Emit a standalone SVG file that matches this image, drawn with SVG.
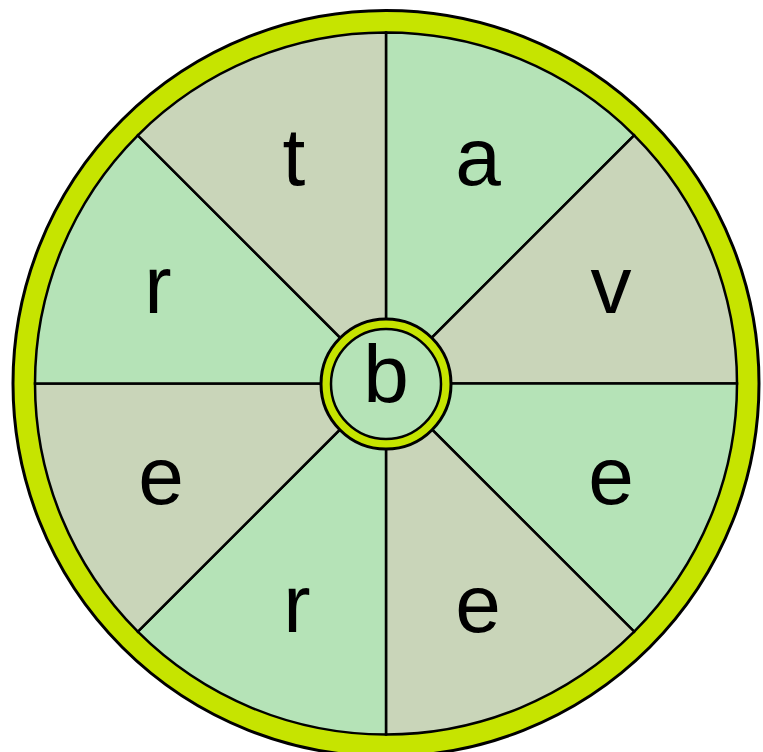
<svg xmlns="http://www.w3.org/2000/svg" width="763" height="752" viewBox="0 0 763 752">
<style>
.ring{fill:#c6e400;stroke:#000;stroke-width:3}
.g{fill:#b5e3b7;stroke:#000;stroke-width:2.5}
.s{fill:#c9d5b9;stroke:#000;stroke-width:2.5}
.t{font-family:"Liberation Sans",Arial,sans-serif;font-size:82px;fill:#000;text-anchor:middle}
</style>
<rect width="763" height="752" fill="#fff"/>
<g id="outer-ring"><circle class="ring" cx="386" cy="383.5" r="373"/></g>
<g id="connectors">
<g id="sector-a"><path class="g" d="M386,383.5 L386,32.5 A351,351 0 0 1 634.2,135.3 Z"/><text class="t" x="478" y="185">a</text></g>
<g id="sector-v"><path class="s" d="M386,383.5 L634.2,135.3 A351,351 0 0 1 737,383.5 Z"/><text class="t" x="611" y="313">v</text></g>
<g id="sector-e1"><path class="g" d="M386,383.5 L737,383.5 A351,351 0 0 1 634.2,631.7 Z"/><text class="t" x="611" y="504">e</text></g>
<g id="sector-e2"><path class="s" d="M386,383.5 L634.2,631.7 A351,351 0 0 1 386,734.5 Z"/><text class="t" x="478" y="632">e</text></g>
<g id="sector-r1"><path class="g" d="M386,383.5 L386,734.5 A351,351 0 0 1 137.8,631.7 Z"/><text class="t" x="297" y="632">r</text></g>
<g id="sector-e3"><path class="s" d="M386,383.5 L137.8,631.7 A351,351 0 0 1 35,383.5 Z"/><text class="t" x="161" y="504">e</text></g>
<g id="sector-r2"><path class="g" d="M386,383.5 L35,383.5 A351,351 0 0 1 137.8,135.3 Z"/><text class="t" x="158" y="313">r</text></g>
<g id="sector-t"><path class="s" d="M386,383.5 L137.8,135.3 A351,351 0 0 1 386,32.5 Z"/><text class="t" x="294" y="185">t</text></g>
</g>
<g id="hub">
<circle class="ring" cx="386" cy="384" r="65"/>
<circle class="g" cx="386" cy="384" r="55"/>
<text class="t" x="386" y="402">b</text>
</g>
</svg>
